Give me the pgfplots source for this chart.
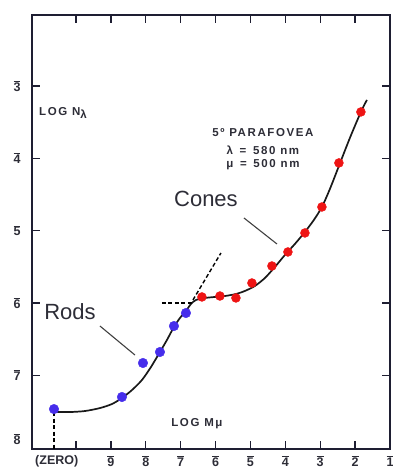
\documentclass[border=0pt]{standalone}
\usepackage{fontspec}
\setmainfont{Liberation Sans}
\usepackage{pgfplots}
\pgfplotsset{compat=1.18}
\definecolor{rodblue}{RGB}{70,45,235}
\definecolor{conered}{RGB}{238,20,20}
\definecolor{framec}{RGB}{30,30,50}
\definecolor{txt}{RGB}{45,45,55}
\newcommand{\ob}[1]{$\overline{\mbox{#1}}$}
\newcommand{\smallfont}{\fontsize{11.5}{12}\selectfont\bfseries\addfontfeatures{LetterSpace=14}}
\begin{document}
\begin{tikzpicture}
\begin{axis}[
  scale only axis,
  width=358pt, height=434pt,
  xmin=-11.26, xmax=-1.0,
  ymin=-8.02, ymax=-2.02,
  axis line style={framec, line width=1.8pt},
  tick style={framec, line width=1.4pt},
  tick align=inside,
  major tick length=8pt,
  xtick pos=both, ytick pos=both,
  xticklabel pos=lower, yticklabel pos=left,
  xtick={-10,-9,-8,-7,-6,-5,-4,-3,-2,-1},
  xticklabels={,\ob{9},\ob{8},\ob{7},\ob{6},\ob{5},\ob{4},\ob{3},\ob{2},\ob{1}},
  extra x ticks={-10.55},
  extra x tick labels={(ZERO)},
  extra x tick style={major tick length=0pt},
  ytick={-3,-4,-5,-6,-7},
  yticklabels={\ob{3},\ob{4},\ob{5},\ob{6},\ob{7}},
  extra y ticks={-7.88},
  extra y tick labels={\ob{8}},
  extra y tick style={major tick length=0pt},
  ticklabel style={font=\fontsize{12.5}{13}\selectfont\bfseries, text=txt},
  xticklabel style={yshift=-3pt},
  yticklabel style={xshift=-8pt},
  clip=false,
]
% fitted curve
\addplot[black!90, line width=1.7pt, smooth, tension=0.45] coordinates {
(-10.630,-7.509) (-10.172,-7.509) (-9.742,-7.495) (-9.312,-7.454) (-8.968,-7.398)
(-8.682,-7.315) (-8.395,-7.205) (-8.109,-7.066) (-7.851,-6.887) (-7.593,-6.679)
(-7.393,-6.513) (-7.192,-6.333) (-7.020,-6.209) (-6.848,-6.112) (-6.705,-6.015)
(-6.562,-5.960) (-6.304,-5.932) (-6.017,-5.918) (-5.731,-5.905) (-5.415,-5.877)
(-5.158,-5.835) (-4.871,-5.766) (-4.585,-5.656) (-4.298,-5.503) (-4.011,-5.337)
(-3.725,-5.185) (-3.438,-5.019) (-3.181,-4.853) (-2.951,-4.674) (-2.722,-4.425)
(-2.464,-4.107) (-2.149,-3.719) (-1.834,-3.360) (-1.662,-3.194)
};
% dashed guide lines
\addplot[black, line width=1.4pt, dash pattern=on 4pt off 2.5pt] coordinates {(-10.63,-7.51) (-10.63,-8.02)};
\addplot[black, line width=1.4pt, dash pattern=on 4pt off 2.5pt] coordinates {(-7.536,-6.0) (-6.648,-6.0)};
\addplot[black, line width=1.4pt, dash pattern=on 4pt off 2.5pt] coordinates {(-6.648,-5.96) (-5.845,-5.31)};
% leader lines
\addplot[black!75, line width=1.1pt] coordinates {(-9.312,-6.320) (-8.309,-6.721)};
\addplot[black!75, line width=1.1pt] coordinates {(-5.186,-4.826) (-4.241,-5.185)};
% rods
\addplot[only marks, mark=*, mark size=4.8pt, mark options={draw=rodblue, fill=rodblue}] coordinates {
(-10.630,-7.468) (-8.682,-7.301) (-8.080,-6.831) (-7.593,-6.679) (-7.192,-6.320) (-6.848,-6.140)
};
% cones
\addplot[only marks, mark=*, mark size=4.5pt, mark options={draw=conered, fill=conered}] coordinates {
(-6.390,-5.918) (-5.874,-5.905) (-5.415,-5.932) (-4.957,-5.725) (-4.384,-5.490)
(-3.926,-5.296) (-3.438,-5.033) (-2.951,-4.674) (-2.464,-4.065) (-1.834,-3.360)
};
% texts
\node[txt, font=\fontsize{22}{24}\selectfont] at (axis cs:-10.172,-6.126) {Rods};
\node[txt, font=\fontsize{22}{24}\selectfont] at (axis cs:-6.275,-4.563) {Cones};
\node[txt, anchor=west, inner sep=0pt, font=\smallfont] at (axis cs:-11.06,-3.373) {LOG N\raisebox{-3pt}{λ}};
\node[txt, font=\smallfont] at (axis cs:-4.642,-3.650) {5º PARAFOVEA};
\node[txt, font=\smallfont] at (axis cs:-4.642,-3.885) {λ\, =\, 580 nm};
\node[txt, font=\smallfont] at (axis cs:-4.642,-4.093) {μ\, =\, 500 nm};
\node[txt, font=\smallfont] at (axis cs:-6.533,-7.675) {LOG Mμ};
\coordinate (sw) at (rel axis cs:0,0);
\coordinate (ne) at (rel axis cs:1,1);
\end{axis}
\pgfresetboundingbox
\path ([shift={(-32pt,-22pt)}]sw) rectangle ([shift={(3pt,15pt)}]ne);
\end{tikzpicture}
\end{document}
